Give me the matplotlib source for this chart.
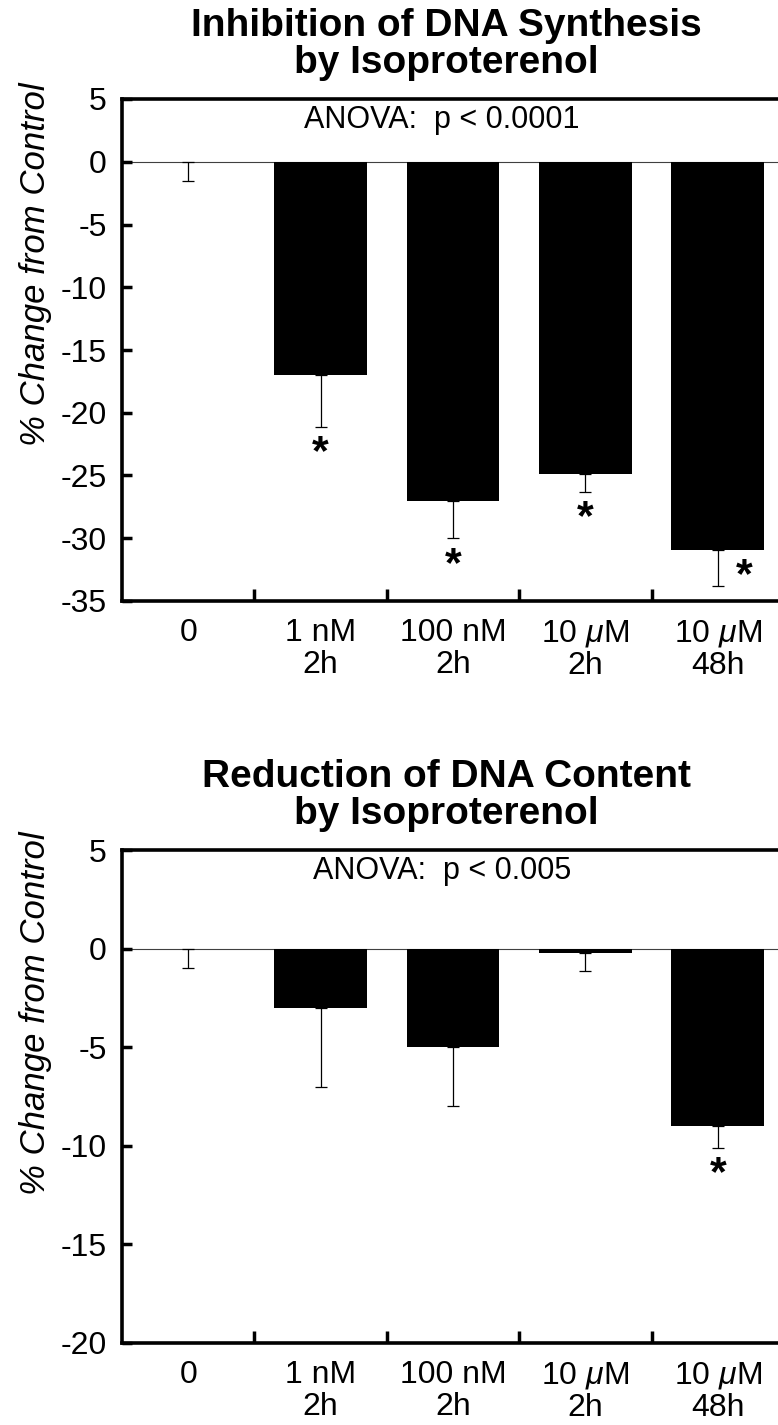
import matplotlib
matplotlib.use('Agg')
import matplotlib.pyplot as plt
import numpy as np

plt.rcParams['font.family'] = ['Liberation Sans', 'DejaVu Sans']
plt.rcParams['mathtext.fontset'] = 'custom'
plt.rcParams['mathtext.it'] = 'Liberation Sans:italic'
plt.rcParams['mathtext.rm'] = 'Liberation Sans'
plt.rcParams['axes.unicode_minus'] = False

categories = ['0', '1 nM\n2h', '100 nM\n2h', '10 $\\mu$M\n2h', '10 $\\mu$M\n48h']

synth_means = [0, -17.0, -27.0, -24.9, -30.9]
synth_err = [1.5, 4.1, 3.0, 1.4, 2.9]
synth_sig = [False, True, True, True, True]
synth_star_beside = [False, False, False, False, True]

content_means = [0, -3.0, -5.0, -0.2, -9.0]
content_err = [1.0, 4.0, 3.0, 0.95, 1.1]
content_sig = [False, False, False, False, True]
content_star_beside = [False, False, False, False, False]


def draw_panel(ax, title, means, errs, sig, beside, ylim, yticks, anova):
    x = np.arange(len(categories))
    ax.axhline(0, color='0.25', lw=0.8, zorder=1)
    ax.bar(x, means, width=0.7, color='black', zorder=2)
    lower = np.array(errs)
    upper = np.zeros(len(errs))
    ax.errorbar(x, means, yerr=[lower, upper], fmt='none', ecolor='black',
                elinewidth=0.9, capsize=4.3, capthick=0.9, zorder=3)
    for i in range(len(x)):
        if not sig[i]:
            continue
        if beside[i]:
            ax.annotate('*', xy=(x[i] + 0.2, means[i]), xytext=(0, -27),
                        textcoords='offset points', ha='center', va='baseline',
                        fontsize=31, fontweight='bold')
        else:
            ax.annotate('*', xy=(x[i], means[i] - errs[i]), xytext=(0, -27),
                        textcoords='offset points', ha='center', va='baseline',
                        fontsize=31, fontweight='bold')

    ax.set_xlim(-0.5, len(x) - 0.5)
    ax.set_ylim(*ylim)
    ax.set_yticks(yticks)
    ax.tick_params(axis='y', direction='in', length=7, width=2.5, labelsize=23, pad=11)
    ax.set_xticks(x[:-1] + 0.5)
    ax.set_xticklabels([])
    ax.tick_params(axis='x', which='major', direction='in', length=9, width=2.5)
    ax.set_xticks(x, minor=True)
    ax.set_xticklabels(categories, minor=True, fontsize=23, linespacing=1.1)
    ax.tick_params(axis='x', which='minor', length=0, pad=12)

    for side in ['left', 'top', 'bottom']:
        ax.spines[side].set_linewidth(2.6)
    ax.spines['right'].set_visible(False)

    ax.set_ylabel('% Change from Control', fontsize=25, fontstyle='italic')
    ax.yaxis.set_label_coords(-0.105, 0.67)

    ax.text(0.483, 0.958, anova, transform=ax.transAxes, ha='center', va='center',
            fontsize=22)
    ax.annotate(title, xy=(0.49, 1.0), xycoords='axes fraction', xytext=(0, 13),
                textcoords='offset points', ha='center', va='bottom',
                fontsize=28, fontweight='bold', linespacing=1.05)


fig = plt.figure(figsize=(7.78, 14.25), dpi=100)
ax1 = fig.add_axes([122 / 778, 1 - 601 / 1425, 662 / 778, 502 / 1425])
ax2 = fig.add_axes([122 / 778, 1 - 1343 / 1425, 662 / 778, 493 / 1425])

draw_panel(ax1, 'Inhibition of DNA Synthesis\nby Isoproterenol', synth_means, synth_err,
           synth_sig, synth_star_beside, (-35, 5), np.arange(-35, 6, 5),
           'ANOVA:  p < 0.0001')
draw_panel(ax2, 'Reduction of DNA Content\nby Isoproterenol', content_means, content_err,
           content_sig, content_star_beside, (-20, 5), np.arange(-20, 6, 5),
           'ANOVA:  p < 0.005')

fig.savefig('out.png', dpi=100)
